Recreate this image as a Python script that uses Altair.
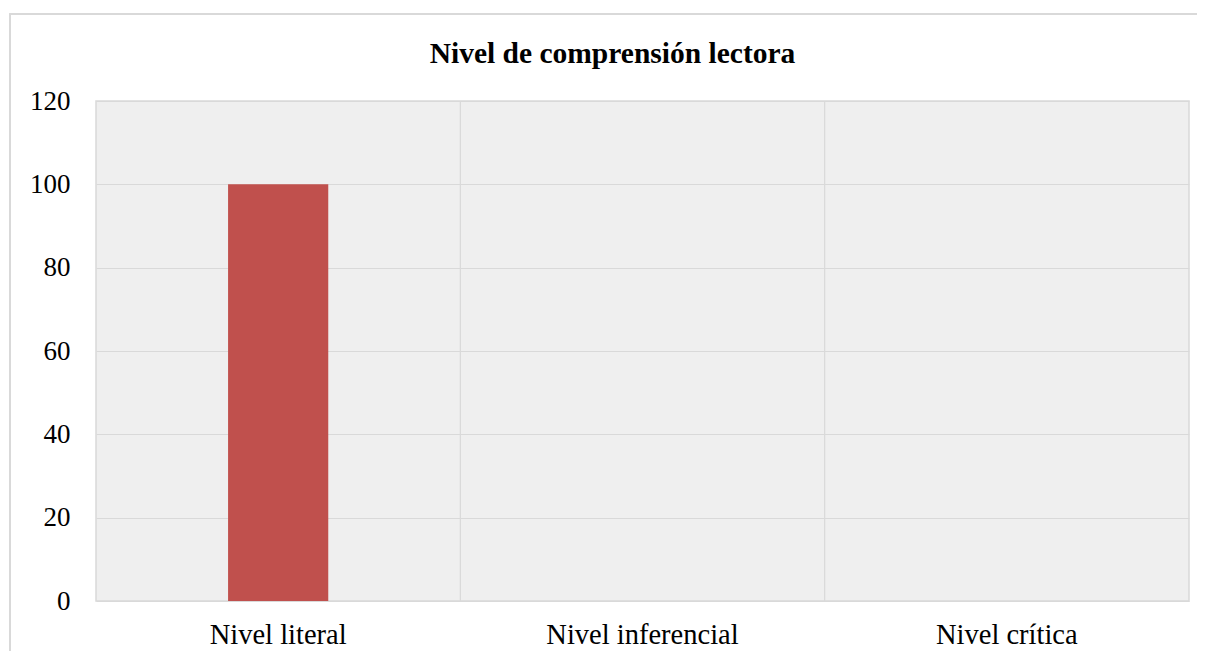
import altair as alt
import pandas as pd

categories = ["Nivel literal", "Nivel inferencial", "Nivel crítica"]
values = [100, 0, 0]
boundaries = ["Nivel inferencial", "Nivel crítica"]
y_ticks = [0, 20, 40, 60, 80, 100, 120]
title_text = "Nivel de comprensión lectora"

df = pd.DataFrame({"cat": categories, "val": values})
df_b = pd.DataFrame({"cat": boundaries})

FONT = "Liberation Serif"
GRID = "#d9d9d9"
W, H = 1093, 500

xscale = alt.Scale(domain=categories, paddingInner=0, paddingOuter=0)
yscale = alt.Scale(domain=[0, 120], nice=False)

frame = alt.Chart(df).mark_rect(
    fill="transparent", stroke=GRID, strokeWidth=1.5, clip=False
).encode(
    x=alt.value(-86), x2=alt.value(W + 40),
    y=alt.value(-87), y2=alt.value(H + 100),
)

bars = alt.Chart(df).mark_bar(
    color="#C0504D", width=alt.RelativeBandSize(0.275)
).encode(
    x=alt.X("cat:N", scale=xscale, sort=categories,
            axis=alt.Axis(title=None, labelAngle=0, labelAlign="center",
                          ticks=False, domain=False, labelLimit=500,
                          grid=False, labelFont=FONT, labelFontSize=28.5,
                          labelColor="#000000", labelPadding=19)),
    y=alt.Y("val:Q", scale=yscale,
            axis=alt.Axis(title=None, values=y_ticks, ticks=False, domain=False,
                          grid=True, gridColor=GRID, gridWidth=1.2,
                          labelFont=FONT, labelFontSize=27,
                          labelColor="#000000", labelPadding=26)),
)

vlines = alt.Chart(df_b).mark_rule(color=GRID, strokeWidth=1.2).encode(
    x=alt.X("cat:N", scale=xscale, bandPosition=0, axis=None),
)

chart = alt.layer(frame, vlines, bars).resolve_scale(
    x="independent"
).properties(
    width=W, height=H,
    title=alt.TitleParams(title_text, font=FONT, fontSize=29.5, fontWeight="bold",
                          color="#000000", anchor="middle", dx=-30, offset=-56),
    autosize=alt.AutoSizeParams(type="none"),
    padding={"left": 88, "top": 93, "right": 8, "bottom": 50},
).configure(
    background="#ffffff"
).configure_view(
    fill="#efefef", stroke=GRID, strokeWidth=1.5
)

chart.save("out.html", embed_options={"renderer": "svg", "actions": False})
